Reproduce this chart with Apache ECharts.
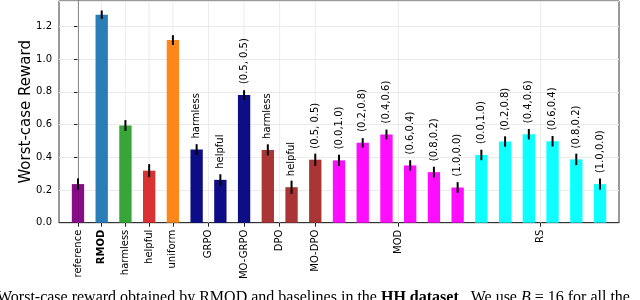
<!DOCTYPE html>
<html>
<head>
<meta charset="utf-8">
<script src="https://cdn.jsdelivr.net/npm/echarts@6/dist/echarts.min.js"></script>
<style>html,body{margin:0;padding:0;background:#fff;}#c{width:640px;height:300px;}</style>
</head>
<body>
<div id="c"></div>
<script>
// ---- data ----
const barGroups = ['reference','RMOD','harmless','helpful','uniform',
  'GRPO','GRPO','MO-GRPO','DPO','DPO','MO-DPO',
  'MOD','MOD','MOD','MOD','MOD','MOD',
  'RS','RS','RS','RS','RS','RS'];
const barNotes = ['','','','','',
  'harmless','helpful','(0.5, 0.5)','harmless','helpful','(0.5, 0.5)',
  '(0.0,1.0)','(0.2,0.8)','(0.4,0.6)','(0.6,0.4)','(0.8,0.2)','(1.0,0.0)',
  '(0.0,1.0)','(0.2,0.8)','(0.4,0.6)','(0.6,0.4)','(0.8,0.2)','(1.0,0.0)'];
const values = [0.236,1.271,0.594,0.318,1.116,
  0.447,0.262,0.780,0.445,0.217,0.385,
  0.381,0.488,0.539,0.350,0.309,0.215,
  0.414,0.496,0.541,0.498,0.387,0.236];
const errors = [0.035,0.026,0.033,0.040,0.030,
  0.033,0.034,0.030,0.034,0.040,0.037,
  0.034,0.029,0.030,0.032,0.033,0.033,
  0.032,0.032,0.032,0.032,0.035,0.034];
const tickPositions = [0,1,2,3,4,5.5,7,8.5,10,13.5,19.5];
const tickLabels = ['reference','RMOD','harmless','helpful','uniform','GRPO','MO-GRPO','DPO','MO-DPO','MOD','RS'];
const yTicks = [0,0.2,0.4,0.6,0.8,1.0,1.2];

// ---- styles ----
const groupColors = {
  'reference':'#800080','RMOD':'#1f77b4','harmless':'#2ca02c','helpful':'#d62728','uniform':'#ff7f0e',
  'GRPO':'#000080','MO-GRPO':'#000080','DPO':'#a52a2a','MO-DPO':'#a52a2a','MOD':'#ff00ff','RS':'#00ffff'
};
const FONT = 'DejaVu Sans';
const halfW = 0.26;

const barData = values.map((v,i)=>[i, v, errors[i]]);

const chart = echarts.init(document.getElementById('c'), null, {renderer:'canvas'});
chart.setOption({
  animation:false,
  backgroundColor:'#fff',
  grid:{left:59,right:21,top:1,bottom:77.3,show:true,borderColor:'#333',borderWidth:1,backgroundColor:'transparent'},
  xAxis:{
    type:'value', min:-0.8, max:22.8,
    axisLine:{show:true,lineStyle:{color:'#333',width:1}},
    axisTick:{show:true,length:4,customValues:tickPositions,lineStyle:{color:'#222'}},
    axisLabel:{customValues:tickPositions,rotate:90,margin:7,fontSize:10,fontFamily:FONT,color:'#000',
      formatter:function(v){const k=tickPositions.indexOf(v); if(k<0) return ''; const t=tickLabels[k]; return t==='RMOD'?'{b|RMOD}':t;},
      rich:{b:{fontWeight:'bold',fontSize:10,fontFamily:FONT,color:'#000'}}},
    splitLine:{show:false}
  },
  yAxis:{
    type:'value', min:0, max:1.355, interval:0.2,
    name:'Worst-case Reward', nameLocation:'middle', nameGap:25, nameMoveOverlap:false,
    nameTextStyle:{fontSize:15,fontFamily:FONT,color:'#000'},
    axisLine:{show:true,lineStyle:{color:'#333',width:1}},
    axisTick:{show:true,length:4,lineStyle:{color:'#222'}},
    axisLabel:{fontSize:10,fontFamily:FONT,color:'#000',margin:7,showMaxLabel:false,
      formatter:function(v){return yTicks.some(t=>Math.abs(t-v)<1e-6)?v.toFixed(1):'';}},
    splitLine:{show:true,lineStyle:{color:'#ebebeb',width:1}}
  },
  graphic:[{
    type:'text', x:-3, y:297.6,
    style:{
      text:'{n|Worst-case reward obtained by RMOD and baselines in the }{b|HH dataset}{n|.  We use }{i|B}{n| = 16 for all the}',
      verticalAlign:'middle',
      rich:{
        n:{fontFamily:'Liberation Serif',fontSize:16,fill:'#000',color:'#000'},
        b:{fontFamily:'Liberation Serif',fontSize:16,fontWeight:'bold',fill:'#000',color:'#000'},
        i:{fontFamily:'Liberation Serif',fontSize:16,fontStyle:'italic',fill:'#000',color:'#000'}
      }
    }
  }],
  series:[
    { // vertical grid lines at x ticks
      type:'custom', z:1, silent:true,
      data:tickPositions.map(x=>[x]),
      renderItem:function(params,api){
        const cs=params.coordSys;
        const p=api.coord([api.value(0),0]);
        return {type:'line',shape:{x1:p[0],y1:cs.y,x2:p[0],y2:cs.y+cs.height},style:{stroke:'#ebebeb',lineWidth:1}};
      }
    },
    { // bars
      type:'custom', z:3,
      data:barData,
      renderItem:function(params,api){
        const i=api.value(0), v=api.value(1);
        const p0=api.coord([i-halfW,0]), p1=api.coord([i+halfW,v]);
        return {type:'rect',shape:{x:p0[0],y:p1[1],width:p1[0]-p0[0],height:p0[1]-p1[1]},
          style:{fill:groupColors[barGroups[params.dataIndex]],opacity:0.95}};
      }
    },
    { // error bars
      type:'custom', z:4,
      data:barData,
      renderItem:function(params,api){
        const i=api.value(0), v=api.value(1), e=api.value(2);
        const a=api.coord([i,v-e]), b=api.coord([i,v+e]);
        return {type:'line',shape:{x1:a[0],y1:a[1],x2:b[0],y2:b[1]},style:{stroke:'#000',lineWidth:2}};
      }
    },
    { // annotations
      type:'custom', z:5,
      data:barData,
      renderItem:function(params,api){
        const t=barNotes[params.dataIndex];
        if(!t) return null;
        const i=api.value(0), v=api.value(1);
        const p=api.coord([i,v]);
        return {type:'text',x:p[0],y:p[1]-11,rotation:Math.PI/2,
          style:{text:t,fontFamily:FONT,fontSize:10,fill:'#000',align:'left',verticalAlign:'middle'}};
      }
    }
  ]
});
</script>
</body>
</html>
